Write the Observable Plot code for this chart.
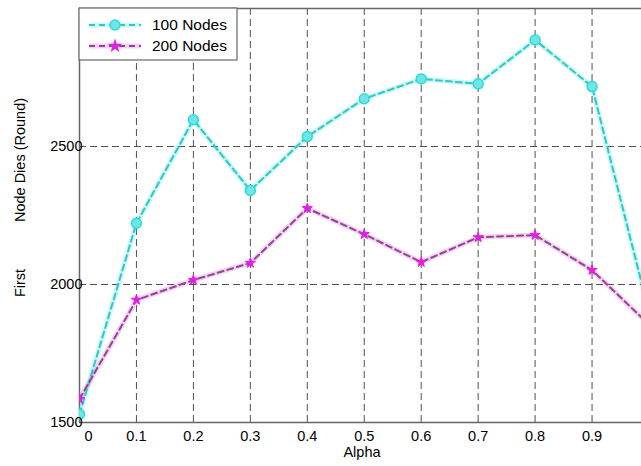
<!DOCTYPE html>
<html><head><meta charset="utf-8">
<script src="https://cdn.jsdelivr.net/npm/d3@7"></script>
<script src="https://cdn.jsdelivr.net/npm/@observablehq/plot@0.6"></script>
<style>
body{margin:0;background:#fff}
#chart svg{font-family:"Liberation Sans",Arial,sans-serif;display:block}
</style>
</head><body><div id="chart"></div>
<script>
const alpha = [0, 0.1, 0.2, 0.3, 0.4, 0.5, 0.6, 0.7, 0.8, 0.9, 1.0];
const nodes100 = [1530, 2222, 2597, 2341, 2536, 2673, 2745, 2727, 2886, 2717, 1900];
const nodes200 = [1585, 1944, 2016, 2078, 2276, 2182, 2081, 2171, 2179, 2052, 1855];
const seriesNames = ["100 Nodes", "200 Nodes"];
const xTicks = [0.1, 0.2, 0.3, 0.4, 0.5, 0.6, 0.7, 0.8, 0.9];
const yTicks = [1500, 2000, 2500];
const xLabel = "Alpha";
const yLabelParts = ["First", "Node Dies (Round)"];

const cyan = "#2fdada", magenta = "#e020e0";
const d100 = alpha.map((a, i) => ({alpha: a, value: nodes100[i]}));
const d200 = alpha.map((a, i) => ({alpha: a, value: nodes200[i]}));

const W = 641, H = 466, ML = 79, MR = 0, MT = 8, MB = 44;
const xMax = (W - ML - MR) / 569.5; // 0.1 unit ≈ 56.95 px
const FS = 14.5;

const plot = Plot.plot({
  width: W, height: H,
  marginLeft: ML, marginRight: MR, marginTop: MT, marginBottom: MB,
  x: {domain: [0, xMax]},
  y: {domain: [1500, 3000]},
  style: {fontSize: FS + "px", fontFamily: "Liberation Sans, Arial, sans-serif", color: "#000", background: "#fff"},
  marks: [
    Plot.gridX(xTicks, {stroke: "#333", strokeOpacity: 0.85, strokeDasharray: "7,4", strokeWidth: 1}),
    Plot.gridY([2000, 2500], {stroke: "#333", strokeOpacity: 0.85, strokeDasharray: "7,4", strokeWidth: 1}),
    Plot.ruleX([0], {stroke: "#666", strokeWidth: 1.5}),
    Plot.ruleY([1500, 3000], {stroke: "#666", strokeWidth: 1.5}),
    Plot.line(d100, {x: "alpha", y: "value", stroke: cyan, strokeWidth: 5, strokeOpacity: 0.25, clip: "frame"}),
    Plot.line(d200, {x: "alpha", y: "value", stroke: magenta, strokeWidth: 5, strokeOpacity: 0.22, clip: "frame"}),
    Plot.line(d100, {x: "alpha", y: "value", stroke: "#2ec8c8", strokeWidth: 2, strokeDasharray: "6,4", clip: "frame"}),
    Plot.line(d200, {x: "alpha", y: "value", stroke: "#8a4a8a", strokeWidth: 2, strokeDasharray: "6,4", clip: "frame"}),
    Plot.dot(d100, {x: "alpha", y: "value", r: 5, fill: "#6ee6e6", stroke: cyan, strokeWidth: 1.5, clip: "frame"}),
    Plot.dot(d200, {x: "alpha", y: "value", r: 3.2, symbol: "star", fill: magenta, stroke: magenta, strokeWidth: 1, clip: "frame"}),
    Plot.axisX(xTicks, {tickSize: 0, tickPadding: 8, label: null, fontSize: FS, tickFormat: d3.format(".1f")}),
    Plot.axisX([0], {tickSize: 0, tickPadding: 8, dx: 9, label: null, fontSize: FS, tickFormat: d => String(d)}),
    Plot.axisY(yTicks, {tickSize: 0, tickPadding: -3, label: null, fontSize: FS, tickFormat: d3.format("d")})
  ]
});

const svg = d3.select(plot);
svg.append("text").attr("x", 362).attr("y", 457).attr("text-anchor", "middle")
  .attr("font-size", FS).attr("fill", "#000").text(xLabel);
svg.append("text").attr("transform", "translate(25,283) rotate(-90)").attr("text-anchor", "middle")
  .attr("font-size", FS).attr("fill", "#000").text(yLabelParts[0]);
svg.append("text").attr("transform", "translate(25,160) rotate(-90)").attr("text-anchor", "middle")
  .attr("font-size", FS).attr("fill", "#000").text(yLabelParts[1]);

const lg = svg.append("g").attr("text-anchor", "start");
lg.append("rect").attr("x", 79).attr("y", 8).attr("width", 158).attr("height", 52)
  .attr("fill", "#fff").attr("stroke", "#666").attr("stroke-width", 1.2);
const legendItems = [
  {name: seriesNames[0], y: 25, glow: cyan, dash: "#2ec8c8", fill: "#6ee6e6", stroke: cyan, sym: d3.symbolCircle, size: 78},
  {name: seriesNames[1], y: 46, glow: magenta, dash: "#8a4a8a", fill: magenta, stroke: magenta, sym: d3.symbolStar, size: 30}
];
for (const it of legendItems) {
  lg.append("line").attr("x1", 89).attr("x2", 141).attr("y1", it.y).attr("y2", it.y)
    .attr("stroke", it.glow).attr("stroke-width", 5).attr("stroke-opacity", 0.22);
  lg.append("line").attr("x1", 89).attr("x2", 141).attr("y1", it.y).attr("y2", it.y)
    .attr("stroke", it.dash).attr("stroke-width", 2).attr("stroke-dasharray", "6,4");
  lg.append("path").attr("d", d3.symbol(it.sym, it.size)()).attr("transform", `translate(115,${it.y})`)
    .attr("fill", it.fill).attr("stroke", it.stroke).attr("stroke-width", 1.5);
  lg.append("text").attr("x", 152).attr("y", it.y).attr("dy", "0.35em").attr("text-anchor", "start")
    .attr("font-size", 15.5).attr("fill", "#000").text(it.name);
}

document.getElementById("chart").appendChild(plot);
</script>
</body></html>
